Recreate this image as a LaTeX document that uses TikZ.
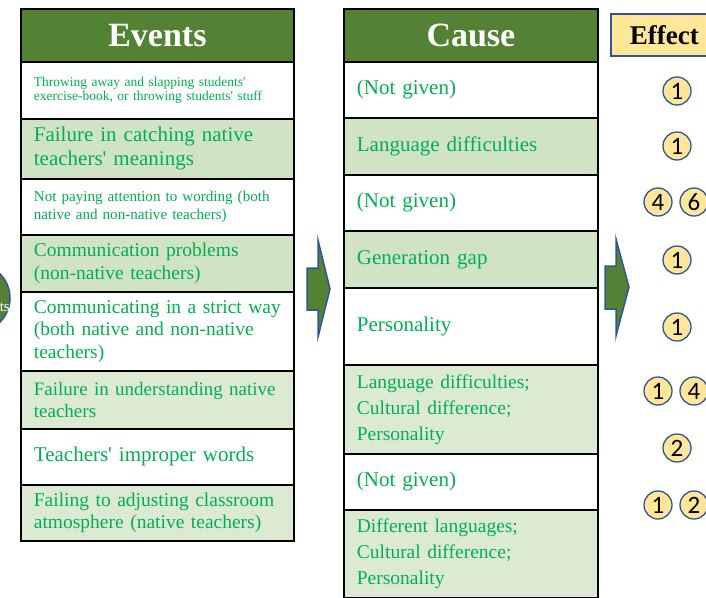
\documentclass[tikz,border=0pt]{standalone}
\usepackage{fontspec}
\setmainfont{Liberation Serif}[Ligatures=TeXOff]
\newfontfamily\numfont{Carlito}
\definecolor{hdgreen}{RGB}{84,130,53}
\definecolor{rowgreen}{RGB}{208,227,197}
\definecolor{rowlight}{RGB}{220,234,212}
\definecolor{txtgreen}{RGB}{0,176,80}
\definecolor{arrowblue}{RGB}{47,85,151}
\definecolor{effyellow}{RGB}{255,230,153}
\newcommand{\bigtxt}{\fontsize{21}{24}\selectfont}
\newcommand{\bodytxt}{\fontsize{19.5}{22.5}\selectfont}
\newcommand{\listtxt}{\fontsize{19.5}{26}\selectfont}
\newcommand{\midtxt}{\fontsize{15.1}{18}\selectfont}
\newcommand{\smalltxt}{\fontsize{13.5}{14.5}\selectfont}
\tikzset{
  cell/.style={draw=black, line width=1.8pt, anchor=north west, inner xsep=13pt,
    inner ysep=0pt, align=left, text=txtgreen, minimum height=#1},
  evcell/.style={cell=#1, text width=247pt},
  cacell/.style={cell=#1, text width=228pt},
  header/.style={draw=black, line width=1.8pt, fill=hdgreen, anchor=north west,
    text=white, inner sep=0pt, minimum height=53pt,
    font=\fontsize{34}{36}\selectfont\bfseries},
  effnum/.style={circle, draw=arrowblue, fill=effyellow, line width=1.3pt,
    minimum size=28pt, inner sep=0pt, font=\numfont\fontsize{25}{25}\selectfont},
  blockarrow/.style={draw=arrowblue, fill=hdgreen, line width=1.5pt}
}
\begin{document}
\begin{tikzpicture}[x=1pt,y=-1pt]
  \useasboundingbox (0,0) rectangle (706,597);
  % circle cut by the left edge
  \node[circle, draw=arrowblue, fill=hdgreen, line width=1.5pt, minimum size=68pt]
    (topic) at (-24,298) {};
  \node[anchor=base east, text=white, inner sep=0pt, font=\fontsize{15}{15}\selectfont]
    (topictxt) at (10,311) {ts};
  % events
  \node[evcell=57, fill=white, font=\smalltxt] (ev1) at (20,61)
    {Throwing away and slapping students'\\exercise-book, or throwing students' stuff};
  \node[evcell=60, fill=rowgreen, font=\bigtxt] (ev2) at (20,118)
    {Failure in catching native\\teachers' meanings};
  \node[evcell=56, fill=white, font=\midtxt] (ev3) at (20,178)
    {Not paying attention to wording (both\\native and non-native teachers)};
  \node[evcell=57, fill=rowgreen, font=\bodytxt] (ev4) at (20,234)
    {Communication problems\\(non-native teachers)};
  \node[evcell=79, fill=white, font=\bodytxt] (ev5) at (20,291)
    {Communicating in a strict way\\(both native and non-native\\teachers)};
  \node[evcell=58, fill=rowlight, font=\fontsize{19}{22.5}\selectfont] (ev6) at (20,370)
    {Failure in understanding native\\teachers};
  \node[evcell=56, fill=white, font=\bigtxt] (ev7) at (20,428)
    {Teachers' improper words};
  \node[evcell=56, fill=rowlight, font=\bodytxt] (ev8) at (20,484)
    {Failing to adjusting classroom\\atmosphere (native teachers)};
  \node[header, minimum width=273pt] (events) at (20,8) {Events};
  % causes
  \node[cacell=56, fill=white, font=\bigtxt] (ca1) at (343,61) {(Not given)};
  \node[cacell=57, fill=rowgreen, font=\bigtxt] (ca2) at (343,117) {Language difficulties};
  \node[cacell=56, fill=white, font=\bigtxt] (ca3) at (343,174) {(Not given)};
  \node[cacell=57, fill=rowgreen, font=\bigtxt] (ca4) at (343,230) {Generation gap};
  \node[cacell=77, fill=white, font=\bigtxt] (ca5) at (343,287) {Personality};
  \node[cacell=89, fill=rowlight, font=\listtxt] (ca6) at (343,364)
    {Language difficulties;\\Cultural difference;\\Personality};
  \node[cacell=56, fill=white, font=\bigtxt] (ca7) at (343,453) {(Not given)};
  \node[cacell=88, fill=rowlight, font=\listtxt] (ca8) at (343,509)
    {Different languages;\\Cultural difference;\\Personality};
  \node[header, minimum width=254pt] (cause) at (343,8) {Cause};
  % block arrows
  \draw[blockarrow] (307,268) -- (318,268) -- (318,240) -- (330,289)
    -- (318,337) -- (318,310) -- (307,310) -- cycle;
  \draw[blockarrow] (605,266) -- (616,266) -- (616,239) -- (629,287)
    -- (616,336) -- (616,309) -- (605,309) -- cycle;
  % effects
  \node[draw=arrowblue, fill=effyellow, line width=1.8pt, anchor=north west,
    minimum width=107pt, minimum height=42pt, inner sep=0pt,
    font=\fontsize{27}{27}\selectfont\bfseries] (effect) at (610,13) {Effect};
  \node[effnum] (e1) at (677,91) {1};
  \node[effnum] (e2) at (677,146) {1};
  \node[effnum] (e3a) at (658,202) {4};
  \node[effnum] (e3b) at (694,202) {6};
  \node[effnum] (e4) at (677,260) {1};
  \node[effnum] (e5) at (677,327) {1};
  \node[effnum] (e6a) at (658,391) {1};
  \node[effnum] (e6b) at (694,391) {4};
  \node[effnum] (e7) at (677,448) {2};
  \node[effnum] (e8a) at (658,505) {1};
  \node[effnum] (e8b) at (694,505) {2};
\end{tikzpicture}
\end{document}
